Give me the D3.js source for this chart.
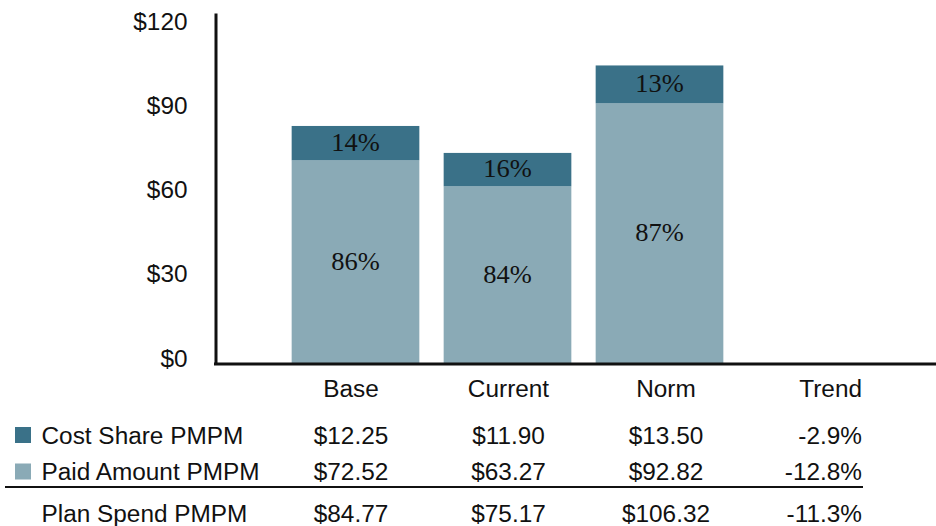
<!DOCTYPE html>
<html>
<head>
<meta charset="utf-8">
<script src="https://cdn.jsdelivr.net/npm/d3@7"></script>
<style>
  html, body { margin: 0; padding: 0; background: #fff; }
  svg { display: block; }
  .sans { font-family: "Liberation Sans", Arial, sans-serif; fill: #111; }
  .serif { font-family: "Liberation Serif", "Times New Roman", serif; fill: #111; }
</style>
</head>
<body>
<svg id="chart" width="936" height="526"></svg>
<script>
// PMPM components per period
const categories = ["Base", "Current", "Norm"];
const costShare = [12.25, 11.90, 13.50];
const paidAmount = [72.52, 63.27, 92.82];
const planSpend = [84.77, 75.17, 106.32];
const trendValues = [-2.9, -12.8, -11.3];
const trendLabel = "Trend";
const yTicks = [0, 30, 60, 90, 120];

const colors = { cost: "#3a7188", paid: "#8aaab6" };

const svg = d3.select("#chart");
const W = 936;
const stretch = 1.06; // slightly wide lettering

// place a text at (x, y) with a horizontal stretch around its anchor
function placeText(sel, xf, yf) {
  sel.attr("x", 0).attr("y", 0)
    .attr("transform", (d, i) => `translate(${xf(d, i)},${yf(d, i)}) scale(${stretch},1)`);
}

// Scales
const y = d3.scaleLinear().domain([0, 125]).range([364, 13]);
const x = d3.scaleBand()
  .domain([...categories, trendLabel])
  .range([279.5, 887.5])
  .paddingInner(0.16)
  .paddingOuter(0.08);
// table column centres
const col = d3.scalePoint().domain(categories).range([351, 666]);
const trendRight = 862;

// Bars (stacked: paid at bottom, cost share on top)
const rows = categories.map((c, i) => ({
  cat: c, paid: paidAmount[i], cost: costShare[i], total: planSpend[i]
}));

const g = svg.append("g");
g.selectAll("rect.paid").data(rows).join("rect")
  .attr("class", "paid")
  .attr("x", d => x(d.cat))
  .attr("width", x.bandwidth())
  .attr("y", d => y(d.paid))
  .attr("height", d => y(0) - y(d.paid))
  .attr("fill", colors.paid);

g.selectAll("rect.cost").data(rows).join("rect")
  .attr("class", "cost")
  .attr("x", d => x(d.cat))
  .attr("width", x.bandwidth())
  .attr("y", d => y(d.paid + d.cost))
  .attr("height", d => y(d.paid) - y(d.paid + d.cost))
  .attr("fill", colors.cost);

// Share labels inside segments
const pct = v => Math.round(v * 100) + "%";
g.selectAll("text.costPct").data(rows).join("text")
  .attr("class", "serif")
  .attr("dy", "0.34em")
  .attr("text-anchor", "middle")
  .attr("font-size", 25)
  .text(d => pct(d.cost / (d.paid + d.cost)))
  .call(placeText, d => x(d.cat) + x.bandwidth() / 2, d => (y(d.paid) + y(d.paid + d.cost)) / 2 - 1);

g.selectAll("text.paidPct").data(rows).join("text")
  .attr("class", "serif")
  .attr("dy", "0.34em")
  .attr("text-anchor", "middle")
  .attr("font-size", 25)
  .text(d => pct(d.paid / (d.paid + d.cost)))
  .call(placeText, d => x(d.cat) + x.bandwidth() / 2, d => (y(0) + y(d.paid)) / 2 - 1);

// Y axis
const yAxis = d3.axisLeft(y)
  .tickValues(yTicks)
  .tickSize(0)
  .tickSizeOuter(0)
  .tickPadding(29)
  .tickFormat(d => "$" + d);
const ya = svg.append("g").attr("transform", "translate(215.5,0)").call(yAxis);
ya.select(".domain").attr("stroke", "#111").attr("stroke-width", 3);
ya.selectAll(".tick text")
  .attr("class", "sans")
  .attr("font-size", 23)
  .attr("dy", "0.35em")
  .attr("fill", "#111")
  .call(placeText, () => -28, () => -6);

// Baseline
svg.append("line")
  .attr("x1", 214).attr("x2", W)
  .attr("y1", y(0)).attr("y2", y(0))
  .attr("stroke", "#111").attr("stroke-width", 3);

// Table
const fs = 23;
const header = svg.append("g").attr("class", "sans").attr("font-size", fs);
header.selectAll("text.h").data(categories).join("text")
  .attr("text-anchor", "middle").text(d => d)
  .call(placeText, d => col(d), () => 397);
header.append("text")
  .attr("text-anchor", "end").text(trendLabel)
  .call(placeText, () => trendRight, () => 397);

const fmtMoney = v => "$" + v.toFixed(2);
const fmtPct = v => v.toFixed(1) + "%";
const tableRows = [
  { label: "Cost Share PMPM", values: costShare, trend: trendValues[0], swatch: colors.cost, base: 443.5 },
  { label: "Paid Amount PMPM", values: paidAmount, trend: trendValues[1], swatch: colors.paid, base: 480 },
  { label: "Plan Spend PMPM", values: planSpend, trend: trendValues[2], swatch: null, base: 522 }
];

tableRows.forEach(r => {
  const rg = svg.append("g").attr("class", "sans").attr("font-size", fs);
  if (r.swatch) {
    rg.append("rect")
      .attr("x", 15).attr("y", r.base - 16.5)
      .attr("width", 16).attr("height", 16)
      .attr("fill", r.swatch);
  }
  rg.append("text").text(r.label)
    .call(placeText, () => 41.5, () => r.base);
  rg.selectAll("text.v").data(r.values).join("text")
    .attr("text-anchor", "middle")
    .text(fmtMoney)
    .call(placeText, (d, i) => col(categories[i]), () => r.base);
  rg.append("text")
    .attr("text-anchor", "end").text(fmtPct(r.trend))
    .call(placeText, () => trendRight, () => r.base);
});

// Total separator
svg.append("line")
  .attr("x1", 5).attr("x2", 863)
  .attr("y1", 487).attr("y2", 487)
  .attr("stroke", "#111").attr("stroke-width", 2);
</script>
</body>
</html>
